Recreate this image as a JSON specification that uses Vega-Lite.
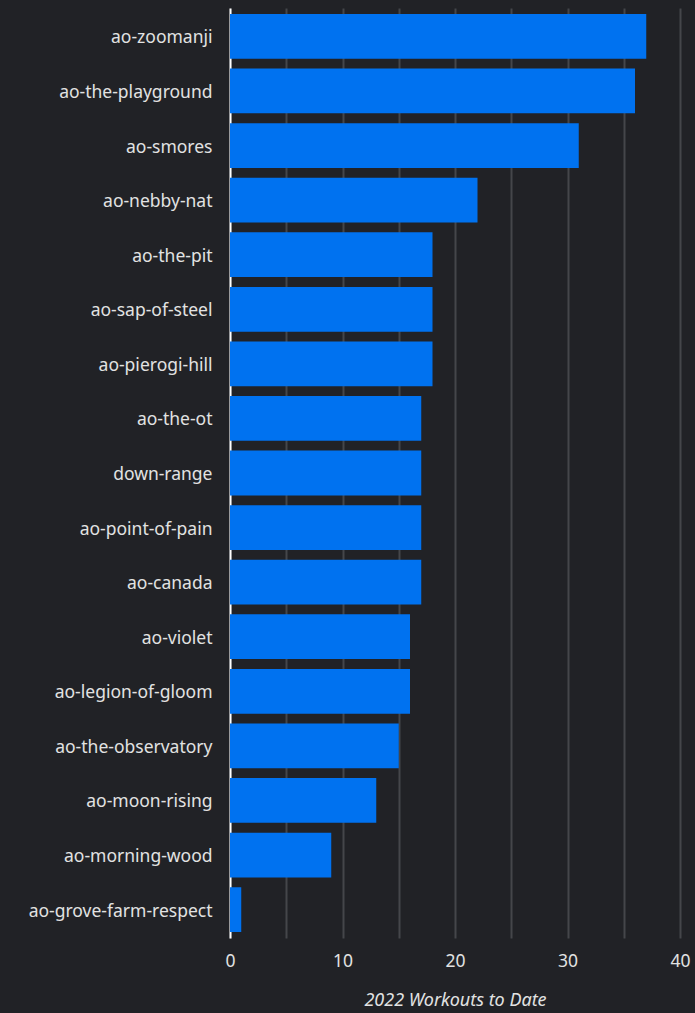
{
  "$schema": "https://vega.github.io/schema/vega-lite/v6.json",
  "autosize": {"type": "none"},
  "padding": {"left": 230, "top": 8, "right": 15, "bottom": 75},
  "width": 450,
  "height": 930,
  "background": "#212226",
  "config": {
    "view": {"stroke": null},
    "font": "Noto Sans"
  },
  "data": {
    "values": [
      {"ao": "ao-zoomanji", "workouts": 37},
      {"ao": "ao-the-playground", "workouts": 36},
      {"ao": "ao-smores", "workouts": 31},
      {"ao": "ao-nebby-nat", "workouts": 22},
      {"ao": "ao-the-pit", "workouts": 18},
      {"ao": "ao-sap-of-steel", "workouts": 18},
      {"ao": "ao-pierogi-hill", "workouts": 18},
      {"ao": "ao-the-ot", "workouts": 17},
      {"ao": "down-range", "workouts": 17},
      {"ao": "ao-point-of-pain", "workouts": 17},
      {"ao": "ao-canada", "workouts": 17},
      {"ao": "ao-violet", "workouts": 16},
      {"ao": "ao-legion-of-gloom", "workouts": 16},
      {"ao": "ao-the-observatory", "workouts": 15},
      {"ao": "ao-moon-rising", "workouts": 13},
      {"ao": "ao-morning-wood", "workouts": 9},
      {"ao": "ao-grove-farm-respect", "workouts": 1}
    ]
  },
  "mark": {"type": "bar", "color": "#0072F0"},
  "encoding": {
    "y": {
      "field": "ao",
      "type": "nominal",
      "sort": null,
      "scale": {"paddingInner": 0.18, "paddingOuter": 0.11},
      "axis": {
        "title": null,
        "domainColor": "#ffffff",
        "domainWidth": 2,
        "ticks": false,
        "grid": false,
        "labelFontSize": 17.5,
        "labelColor": "#e2e2e2",
        "labelPadding": 18,
        "labelOffset": 2,
        "labelFont": "Noto Sans",
        "labelLimit": 300
      }
    },
    "x": {
      "field": "workouts",
      "type": "quantitative",
      "scale": {"domain": [0, 40], "nice": false},
      "axis": {
        "values": [0, 5, 10, 15, 20, 25, 30, 35, 40],
        "labelExpr": "datum.value % 10 === 0 ? datum.label : ''",
        "labelFlush": false,
        "domain": false,
        "ticks": false,
        "grid": true,
        "gridColor": "#45464a",
        "gridWidth": 2,
        "labelFontSize": 17.5,
        "labelColor": "#e2e2e2",
        "labelPadding": 14,
        "labelFont": "Noto Sans",
        "title": "2022 Workouts to Date",
        "titleFontStyle": "italic",
        "titleFontWeight": "normal",
        "titleFontSize": 18,
        "titleColor": "#e2e2e2",
        "titleFont": "Noto Sans",
        "titlePadding": 22
      }
    }
  }
}
